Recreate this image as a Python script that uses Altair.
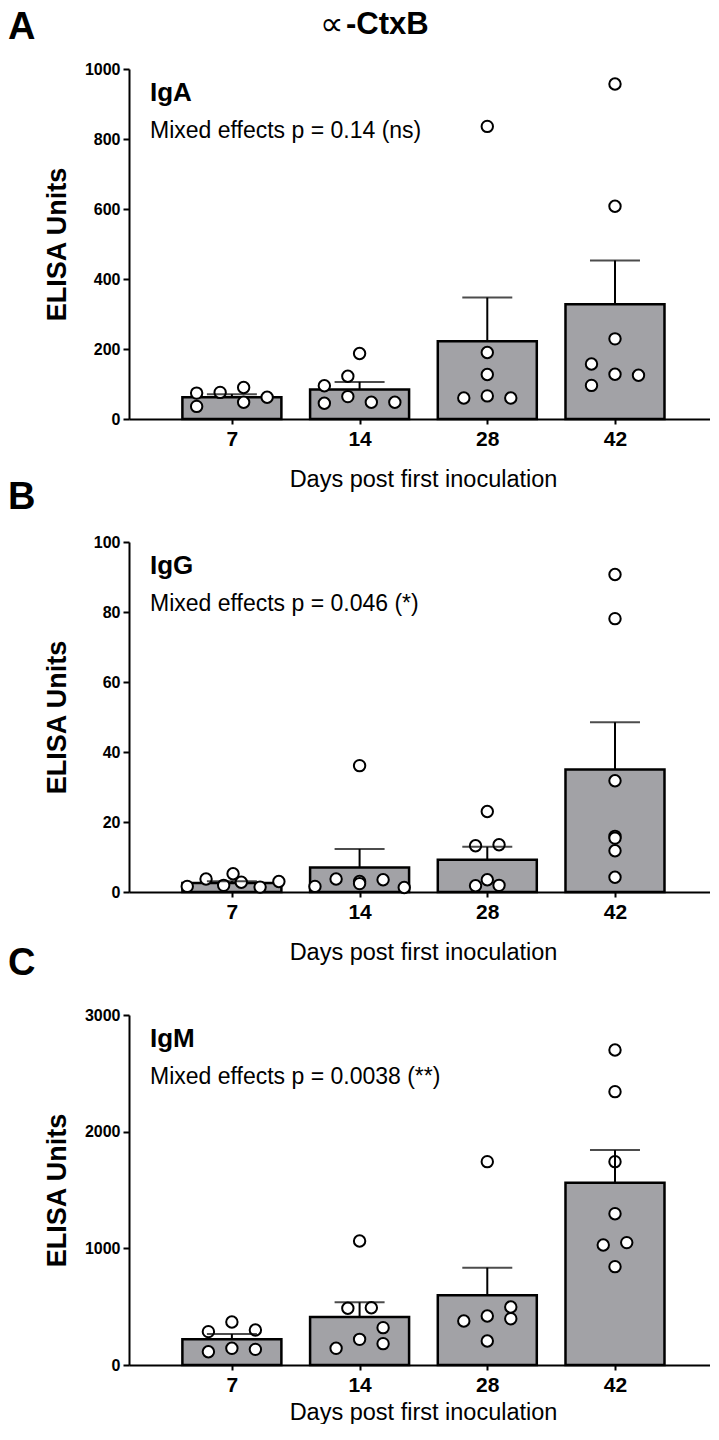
import altair as alt
import pandas as pd

FONT = "Liberation Sans"
GRAY = "#a2a2a6"

days = ["7", "14", "28", "42"]

# ---- IgA ----
iga_mean = [62, 84, 222, 328]
iga_sem = [9, 22, 125, 125]
iga_d7 = [74, 36, 76, 90, 48, 62]
iga_d7_col = [-1.5, -1.5, -0.5, 0.5, 0.5, 1.5]
iga_d14 = [95, 45, 122, 64, 187, 48, 48]
iga_d14_col = [-1.5, -1.5, -0.5, -0.5, 0, 0.5, 1.5]
iga_d28 = [836, 190, 127, 66, 60, 60]
iga_d28_col = [0, 0, 0, 0, -1, 1]
iga_d42 = [957, 608, 229, 128, 157, 96, 125]
iga_d42_col = [0, 0, 0, 0, -1, -1, 1]

# ---- IgG ----
igg_mean = [2.6, 7.0, 9.2, 35.0]
igg_sem = [0.5, 5.3, 3.7, 13.5]
igg_d7 = [1.6, 3.7, 1.9, 5.2, 2.8, 1.4, 3.0]
igg_d7_col = [-1.9, -1.1, -0.35, 0.05, 0.4, 1.2, 2.0]
igg_d14 = [1.6, 3.7, 3.0, 2.4, 36.1, 3.5, 1.3]
igg_d14_col = [-1.9, -1.0, 0, 0, 0, 1.0, 1.9]
igg_d28 = [1.8, 3.5, 1.9, 13.2, 13.5, 23.0]
igg_d28_col = [-0.5, 0, 0.5, -0.5, 0.5, 0]
igg_d42 = [90.7, 78.1, 31.8, 15.9, 15.4, 11.8, 4.2]
igg_d42_col = [0, 0, 0, 0, 0, 0, 0]

# ---- IgM ----
igm_mean = [220, 411, 597, 1563]
igm_sem = [46, 126, 237, 279]
igm_d7 = [286, 114, 369, 143, 300, 134]
igm_d7_col = [-1, -1, 0, 0, 1, 1]
igm_d14 = [143, 486, 220, 1063, 491, 320, 183]
igm_d14_col = [-1, -0.5, 0, 0, 0.5, 1, 1]
igm_d28 = [377, 420, 206, 497, 397, 1743]
igm_d28_col = [-1, 0, 0, 1, 1, 0]
igm_d42 = [1297, 1029, 1049, 843, 2700, 2343, 1743]
igm_d42_col = [0, -0.5, 0.5, 0, 0, 0, 0]

COL_UNIT = 0.184          # horizontal spacing of one dot column, in category steps
X_DOMAIN = [-0.8057, 3.744]
PLOT_W = 581
LABEL_EXPR = "[" + ",".join("'%s'" % d for d in days) + "][datum.value]"


def points_df(groups):
    rows = []
    for d, vals, cols in groups:
        for v, c in zip(vals, cols):
            rows.append({"idx": days.index(d), "value": v, "col": c})
    return pd.DataFrame(rows)


def text_layer(s, x, y, size, weight="normal", baseline="alphabetic"):
    return alt.Chart(pd.DataFrame({"t": [s]})).mark_text(
        align="left", baseline=baseline, font=FONT, fontSize=size,
        fontWeight=weight, color="black"
    ).encode(text="t:N", x=alt.value(x), y=alt.value(y))


def panel(letter, letter_y, iso, ptext, means, sems, pts, ymax, ticks,
          with_title=False, xtitle_y=67.7):
    summ = pd.DataFrame({"idx": list(range(len(days))), "mean": means, "sem": sems})
    summ["top"] = summ["mean"] + summ["sem"]
    xscale = alt.Scale(domain=X_DOMAIN, nice=False, zero=False, padding=0)
    yscale = alt.Scale(domain=[0, ymax], nice=False, padding=0)
    xaxis = alt.Axis(title="Days post first inoculation", values=list(range(len(days))),
                     labelExpr=LABEL_EXPR, labelAngle=0,
                     labelFontSize=21, labelFontWeight="bold",
                     tickSize=5, labelPadding=4,
                     titleFontSize=23.5, titleFontWeight="normal",
                     titleBaseline="alphabetic", titleAlign="center",
                     titleX=294, titleY=xtitle_y)
    yaxis = alt.Axis(values=ticks, format="d", title="ELISA Units",
                     labelFontSize=16, labelFontWeight="bold",
                     tickSize=6, labelPadding=3,
                     titleFontSize=27, titleFontWeight="bold",
                     titleX=-57.5, titleY=175)

    bars = alt.Chart(summ).mark_bar(
        fill=GRAY, stroke="black", strokeWidth=2.5, size=99, orient="vertical"
    ).encode(
        x=alt.X("idx:Q", scale=xscale, axis=xaxis),
        y=alt.Y("mean:Q", scale=yscale, axis=yaxis),
        y2=alt.datum(0),
    )
    pts_layer = alt.Chart(pts).transform_calculate(
        pos="datum.idx + datum.col * %f" % COL_UNIT
    ).mark_point(
        shape="circle", filled=True, fill="white", stroke="black",
        strokeWidth=2, size=130, opacity=1
    ).encode(
        x=alt.X("pos:Q", scale=xscale, axis=xaxis),
        y=alt.Y("value:Q", scale=yscale, axis=yaxis),
    )
    rule = alt.Chart(summ).mark_rule(color="black", strokeWidth=2).encode(
        x=alt.X("idx:Q", scale=xscale, axis=xaxis),
        y=alt.Y("mean:Q", scale=yscale, axis=yaxis),
        y2="top:Q",
    )
    cap = alt.Chart(summ).mark_tick(color="black", thickness=2, size=50,
                                    orient="horizontal").encode(
        x=alt.X("idx:Q", scale=xscale, axis=xaxis),
        y=alt.Y("top:Q", scale=yscale, axis=yaxis),
    )
    layers = [bars, pts_layer, rule, cap,
              text_layer(letter, -121, letter_y, 38, "bold"),
              text_layer(iso, 21, 32, 26, "bold"),
              text_layer(ptext, 21, 69, 23, "normal")]
    if with_title:
        layers.append(text_layer("\u221d", 191, -33.6, 33, "normal"))
        layers.append(text_layer("-CtxB", 217, -35.2, 31, "bold"))
    return alt.layer(*layers).properties(width=PLOT_W, height=350)


pA = panel("A", -29.6, "IgA", "Mixed effects p = 0.14 (ns)", iga_mean, iga_sem,
           points_df([("7", iga_d7, iga_d7_col), ("14", iga_d14, iga_d14_col),
                      ("28", iga_d28, iga_d28_col), ("42", iga_d42, iga_d42_col)]),
           1000, [0, 200, 400, 600, 800, 1000], with_title=True)
pB = panel("B", -33.5, "IgG", "Mixed effects p = 0.046 (*)", igg_mean, igg_sem,
           points_df([("7", igg_d7, igg_d7_col), ("14", igg_d14, igg_d14_col),
                      ("28", igg_d28, igg_d28_col), ("42", igg_d42, igg_d42_col)]),
           100, [0, 20, 40, 60, 80, 100])
pC = panel("C", -39.8, "IgM", "Mixed effects p = 0.0038 (**)", igm_mean, igm_sem,
           points_df([("7", igm_d7, igm_d7_col), ("14", igm_d14, igm_d14_col),
                      ("28", igm_d28, igm_d28_col), ("42", igm_d42, igm_d42_col)]),
           3000, [0, 1000, 2000, 3000], xtitle_y=54)

chart = alt.vconcat(pA, pB, pC, spacing=123, bounds="flush").properties(
    padding={"left": 0, "top": 0, "right": 0, "bottom": 0}
).configure_axis(
    labelFont=FONT, titleFont=FONT, domainColor="black", tickColor="black",
    labelColor="black", titleColor="black", grid=False, domainWidth=2, tickWidth=2
).configure_view(stroke=None)

chart.save("out.html", embed_options={"renderer": "svg", "actions": False})
